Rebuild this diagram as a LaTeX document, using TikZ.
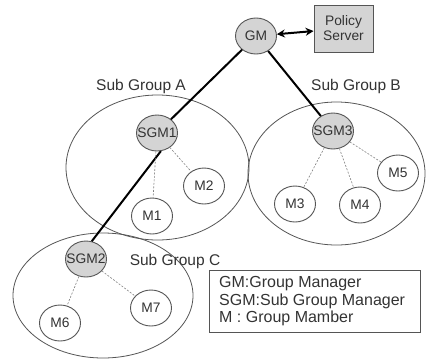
\documentclass[tikz,border=0pt]{standalone}
\usepackage{fontspec}
\setmainfont{Liberation Sans}
\usetikzlibrary{shapes.geometric,arrows.meta}
\newcommand\zw[1]{\makebox[0pt]{#1}}
\definecolor{edgegray}{HTML}{555555}
\definecolor{nodegray}{HTML}{D4D4D4}
\definecolor{txtgray}{HTML}{333333}
\tikzset{
  grp/.style={draw=edgegray, line width=0.8pt},
  mgr/.style={ellipse, draw=edgegray, line width=0.9pt, fill=nodegray, inner sep=0pt, minimum width=41, minimum height=36, font=\fontsize{13.8}{14}\selectfont, text=txtgray},
  mem/.style={ellipse, draw=edgegray, line width=0.9pt, fill=white, inner sep=0pt, minimum width=41, minimum height=36, font=\fontsize{13.8}{14}\selectfont, text=txtgray},
  trunk/.style={line width=2pt, black},
  sub/.style={dash pattern=on 2pt off 1.5pt, draw=gray, line width=0.6pt},
  lbl/.style={font=\fontsize{15.5}{16}\selectfont, text=txtgray, inner sep=0pt},
}
\begin{document}
\begin{tikzpicture}[x=1pt,y=-1pt]
\useasboundingbox (0,0) rectangle (427,359);
% groups
\draw[grp] (157.5,167.5) ellipse [x radius=91.5, y radius=72.5];
\draw[grp] (336.5,173.5) ellipse [x radius=88.5, y radius=71.5];
\draw[grp] (103,295.5) ellipse [x radius=90, y radius=62.5];
% labels
\node[lbl] (la) at (141,86) {Sub Group A};
\node[lbl] (lb) at (356,86) {Sub Group B};
\node[lbl] (lc) at (175,261) {Sub Group C};
% nodes
\node[mgr] (gm) at (256,36) {\zw{GM}};
\node[draw=edgegray, line width=0.9pt, fill=nodegray, minimum width=59, minimum height=47, inner sep=0pt, align=center, font=\fontsize{13.8}{15}\selectfont, text=txtgray] (ps) at (343.5,28.5) {Policy\\Server};
\node[mgr] (sgm1) at (157,133) {\zw{SGM1}};
\node[mgr] (sgm3) at (333,131) {\zw{SGM3}};
\node[mgr] (sgm2) at (86,259) {\zw{SGM2}};
\node[mem] (m1) at (152,216) {\zw{M1}};
\node[mem] (m2) at (204,186) {\zw{M2}};
\node[mem] (m3) at (295,204) {\zw{M3}};
\node[mem] (m4) at (360,205) {\zw{M4}};
\node[mem] (m5) at (398,173) {\zw{M5}};
\node[mem] (m6) at (60,323) {\zw{M6}};
\node[mem] (m7) at (151,308) {\zw{M7}};
% connectors
\draw[trunk] (gm) -- (sgm1);
\draw[trunk] (sgm1.-78) -- (sgm2.72);
\draw[trunk] (gm) -- (sgm3);
\draw[trunk, {Stealth[length=8pt,width=8pt]}-{Stealth[length=8pt,width=8pt]}] (gm) -- (ps);
\draw[sub] (sgm1) -- (m1);
\draw[sub] (sgm1) -- (m2);
\draw[sub] (sgm3) -- (m3);
\draw[sub] (sgm3) -- (m4);
\draw[sub] (sgm3) -- (m5);
\draw[sub] (sgm2) -- (m6);
\draw[sub] (sgm2) -- (m7);
% legend
\node[draw=edgegray, line width=0.9pt, minimum width=211, minimum height=62, inner sep=0pt, anchor=north west] (leg) at (209,270) {};
\node[anchor=west, align=left, inner sep=0pt, font=\fontsize{16}{17.5}\selectfont, text=txtgray] (legtxt) at (219,301.5) {GM:Group Manager\\SGM:Sub Group Manager\\M : Group Mamber};
\end{tikzpicture}
\end{document}
